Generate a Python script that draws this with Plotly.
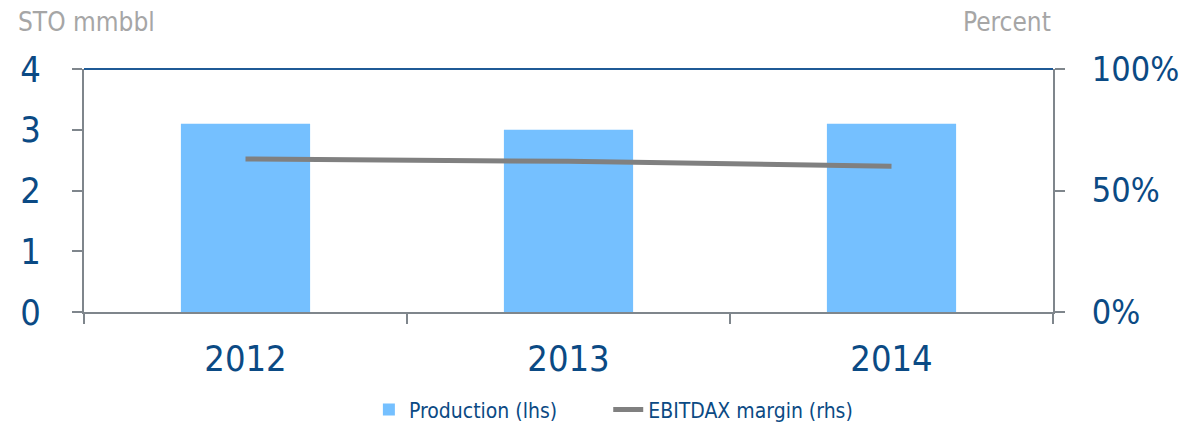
import plotly.graph_objects as go

years = ["2012", "2013", "2014"]
production = [3.1, 3.0, 3.1]
ebitdax_margin = [0.63, 0.62, 0.60]

TICK_COLOR = "#0B4A84"
AXIS_COLOR = "#7F868C"
FONT = "DejaVu Sans Condensed"

fig = go.Figure()
fig.add_trace(go.Bar(x=years, y=production, name="Production (lhs)",
                     marker=dict(color="#75C0FF", line=dict(width=0)), width=0.4,
                     yaxis="y", legend="legend"))
fig.add_trace(go.Scatter(x=years, y=ebitdax_margin, name="EBITDAX margin (rhs)",
                         mode="lines", line=dict(color="#808080", width=5),
                         yaxis="y2", legend="legend2"))

legend_common = dict(orientation="h", y=-0.403, yanchor="middle", xanchor="left",
                     font=dict(size=21, color=TICK_COLOR), bgcolor="rgba(0,0,0,0)")

fig.update_layout(
    width=1191, height=414,
    margin=dict(l=76, r=146, t=61, b=110, autoexpand=False),
    paper_bgcolor="white", plot_bgcolor="white",
    font=dict(family=FONT, color=TICK_COLOR),
    showlegend=True,
    legend=dict(x=0.294, **legend_common),
    legend2=dict(x=0.541, **legend_common),
    xaxis=dict(type="category", tickson="boundaries", ticks="outside", ticklen=10,
               tickcolor=AXIS_COLOR, tickwidth=2, showline=True, linecolor=AXIS_COLOR,
               linewidth=2, showgrid=False, tickfont=dict(size=36, color=TICK_COLOR),
               ticklabelstandoff=14, automargin=False),
    yaxis=dict(range=[0, 4], dtick=1, ticks="outside", ticklen=10, tickcolor=AXIS_COLOR,
               tickwidth=2, showline=True, linecolor=AXIS_COLOR, linewidth=2,
               showgrid=False, zeroline=False, tickfont=dict(size=36, color=TICK_COLOR),
               ticklabelstandoff=24, automargin=False),
    yaxis2=dict(range=[0, 1], dtick=0.5, tickformat=".0%", overlaying="y", side="right",
                ticks="outside", ticklen=10, tickcolor=AXIS_COLOR, tickwidth=2,
                showline=True, linecolor=AXIS_COLOR, linewidth=2, showgrid=False,
                zeroline=False, tickfont=dict(size=34, color=TICK_COLOR),
                ticklabelstandoff=20, automargin=False),
)

fig.add_shape(type="line", xref="paper", yref="paper", x0=0, x1=1, y0=1, y1=1,
              line=dict(color="#1F5A96", width=2))

fig.add_annotation(text="STO mmbbl", xref="paper", yref="paper", x=-68/969, y=1,
                   xanchor="left", yanchor="middle", yshift=47, showarrow=False,
                   font=dict(size=26, color="#A6A6A6", family=FONT))
fig.add_annotation(text="Percent", xref="paper", yref="paper", x=1, y=1,
                   xanchor="right", yanchor="middle", yshift=47, showarrow=False,
                   font=dict(size=26, color="#A6A6A6", family=FONT))

fig.write_html("out.html")
